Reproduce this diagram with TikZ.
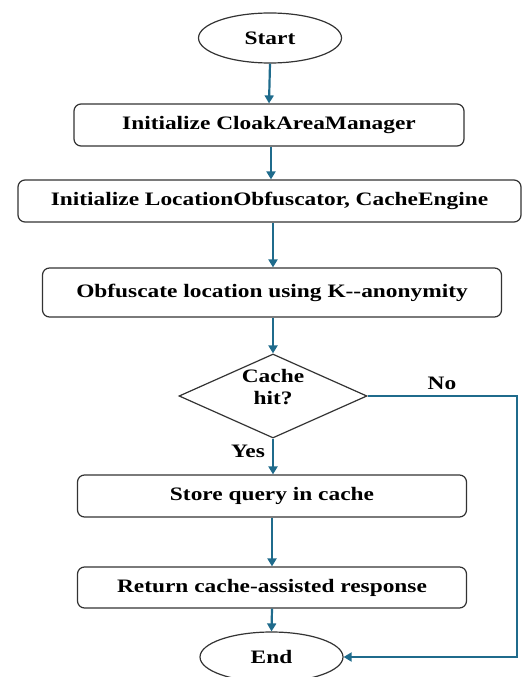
\documentclass[tikz,border=0pt]{standalone}
\usepackage{fontspec}
\setmainfont{Liberation Serif}[FakeStretch=1.23]
\usetikzlibrary{shapes.geometric,arrows.meta}
\definecolor{arrowblue}{HTML}{1F6B8C}
\definecolor{edgegray}{HTML}{333333}
\tikzset{
  every node/.style={font=\bfseries\fontsize{19}{22}\selectfont, text=black},
  procbox/.style={draw=edgegray, line width=1.2pt, rounded corners=7pt, fill=white, inner sep=0pt},
  termnode/.style={ellipse, draw=edgegray, line width=1.2pt, fill=white, minimum width=143pt, minimum height=50pt, inner sep=0pt},
  decnode/.style={diamond, draw=edgegray, line width=1.2pt, fill=white, minimum width=188pt, minimum height=84pt, inner sep=0pt},
  flow/.style={draw=arrowblue, line width=2.2pt, -{Triangle[width=9pt,length=8pt]}},
  lbl/.style={inner sep=0pt}
}
\begin{document}
\begin{tikzpicture}[x=1pt,y=-1pt]
\useasboundingbox (0,0) rectangle (522,677);
\node[termnode] (start) at (270,38) {Start};
\node[procbox, minimum width=390pt, minimum height=42pt] (b1) at (269,125) {Initialize CloakAreaManager};
\node[procbox, minimum width=503pt, minimum height=42pt] (b2) at (269.5,201) {Initialize LocationObfuscator, CacheEngine};
\node[procbox, minimum width=459pt, minimum height=49pt] (b3) at (272,292.5) {Obfuscate location using K-{}-anonymity};
\node[decnode] (dec) at (273,396) {};
\node[lbl, align=center] (dectext) at (273,387) {Cache\\hit?};
\node[procbox, minimum width=389pt, minimum height=42pt] (b4) at (272,496) {Store query in cache};
\node[procbox, minimum width=389pt, minimum height=41pt] (b5) at (272,587.5) {Return cache-assisted response};
\node[termnode] (end) at (271.5,657) {End};
\coordinate (corner) at (517,396);
\node[lbl] (nolbl) at (442,383) {No};
\node[lbl] (yeslbl) at (248,451) {Yes};
\draw[flow] (start.south) -- (b1.north);
\draw[flow] (b1.south -| 271,0) -- (b2.north -| 271,0);
\draw[flow] (b2.south -| 273,0) -- (b3.north -| 273,0);
\draw[flow] (b3.south -| 273,0) -- (dec.north);
\draw[flow] (dec.south) -- (b4.north -| 273,0);
\draw[flow] (b4.south) -- (b5.north);
\draw[flow] (b5.south) -- (end.north);
\draw[flow, line width=1.8pt] (dec.east) -- (corner) |- (end.east);
\end{tikzpicture}
\end{document}
